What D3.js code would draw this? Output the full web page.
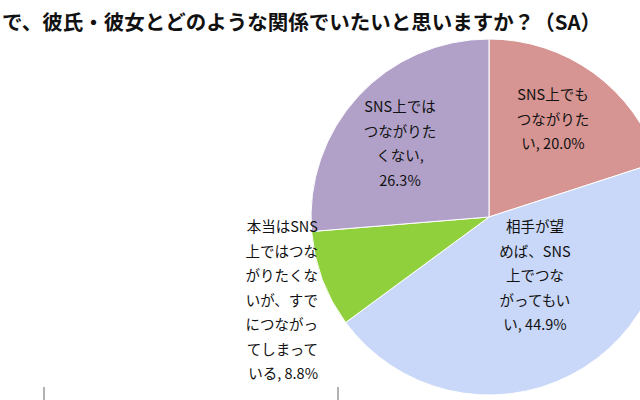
<!DOCTYPE html>
<html><head><meta charset="utf-8">
<script src="https://cdn.jsdelivr.net/npm/d3@7"></script>
<style>body{margin:0;background:#fff}svg{display:block}</style>
</head><body>
<svg id="chart" width="640" height="400"></svg>
<script>
// data
const categories = ["SNS上でもつながりたい", "相手が望めば、SNS上でつながってもいい", "本当はSNS上ではつながりたくないが、すでにつながってしまっている", "SNS上ではつながりたくない"];
const values = [20.0, 44.9, 8.8, 26.3];
const labelLines = [
    ["SNS上でも", "つながりた", "い, 20.0%"],
    ["相手が望", "めば、SNS", "上でつな", "がってもい", "い, 44.9%"],
    ["本当はSNS", "上ではつな", "がりたくな", "いが、すで", "につながっ", "てしまって", "いる, 8.8%"],
    ["SNS上では", "つながりた", "くない,", "26.3%"]
];
const colours = ["#d69592", "#c9d8f8", "#90d03c", "#b1a1c9"];
const title = "で、彼氏・彼女とどのような関係でいたいと思いますか？（SA）";

let svg = d3.select("#chart");
const font = "'Noto Sans CJK JP', sans-serif";

svg.append("text")
    .attr("x", 2).attr("y", 30)
    .attr("font-family", font).attr("font-weight", "bold")
    .attr("font-size", 20.5).attr("fill", "#111")
    .text(title);

//** PIE *****************************************
const cx = 489, cy = 217, r = 178;
let pie = d3.pie().sort(null)(values);
let arc = d3.arc().innerRadius(0).outerRadius(r);

let g = svg.append("g").attr("transform", "translate(" + cx + "," + cy + ")");
g.selectAll("path").data(pie).enter().append("path")
    .attr("d", arc)
    .attr("fill", (d, i) => colours[i])
    .attr("stroke", "#fff").attr("stroke-width", 1);

// label anchors (relative to centre)
const labelPos = [
    {x: 64, y: -117, anchor: "middle"},
    {x: 46, y: 15, anchor: "middle"},
    {x: -171, y: 15, anchor: "end"},
    {x: -89, y: -105, anchor: "middle"}
];
labelLines.forEach((lines, i) => {
    let t = g.append("text")
        .attr("font-family", font).attr("font-size", 14.5)
        .attr("fill", "#111")
        .attr("text-anchor", labelPos[i].anchor);
    lines.forEach((l, j) => {
        t.append("tspan").attr("x", labelPos[i].x)
            .attr("y", labelPos[i].y + j * 24.5).text(l);
    });
});

// clipped axis fragments at bottom
[44, 338].forEach(x => {
    svg.append("line").attr("x1", x).attr("x2", x)
        .attr("y1", 387).attr("y2", 400)
        .attr("stroke", "#666");
});
</script>
</body></html>
